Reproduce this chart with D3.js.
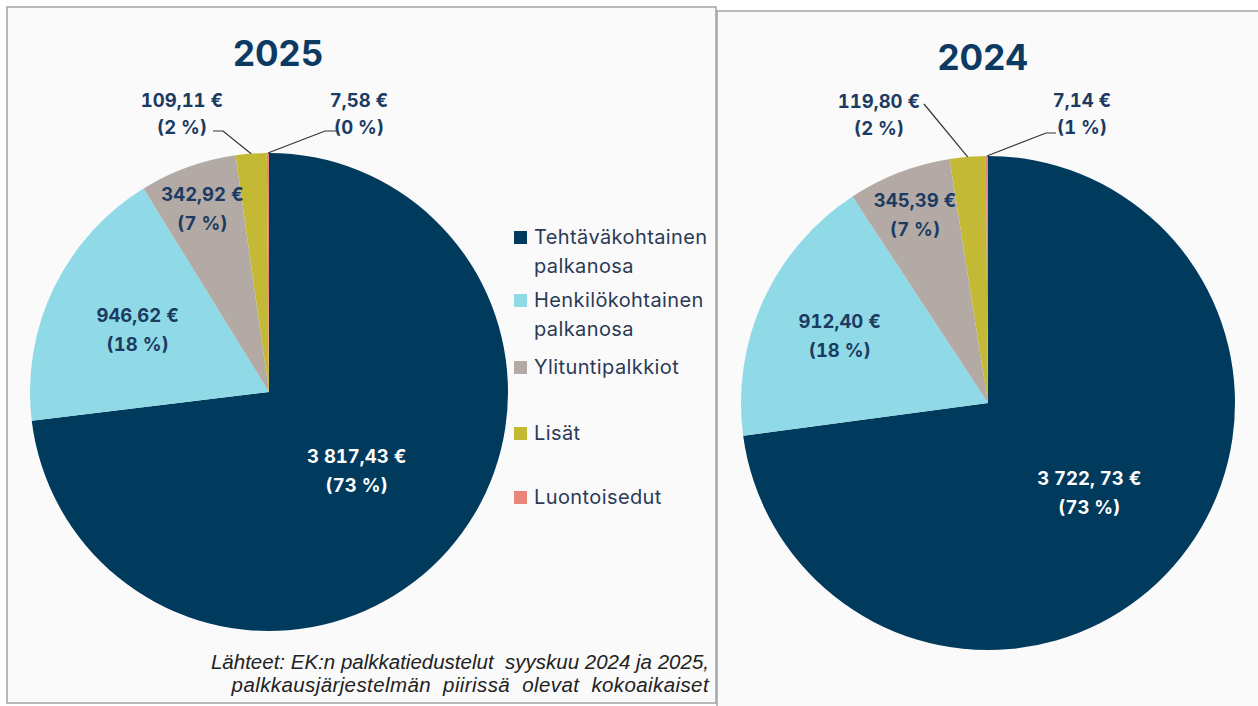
<!DOCTYPE html>
<html>
<head>
<meta charset="utf-8">
<script src="https://cdn.jsdelivr.net/npm/d3@7"></script>
<style>
body{margin:0;background:#fff;}
svg{display:block;}
.luku{font-family:Inter,'Noto Sans',sans-serif;font-weight:700;font-size:18.5px;font-variant-numeric:tabular-nums;}
</style>
</head>
<body>
<div class="kaavio-container"></div>
<script>
//////////////////////data//////////////////////
var kategoriat=["Tehtäväkohtainen palkanosa","Henkilökohtainen palkanosa","Ylituntipalkkiot","Lisät","Luontoisedut"];
var legendRivit=[["Tehtäväkohtainen","palkanosa"],["Henkilökohtainen","palkanosa"],["Ylituntipalkkiot"],["Lisät"],["Luontoisedut"]];
var arvot2025=[3817.43,946.62,342.92,109.11,7.58];
var arvot2024=[3722.73,912.40,345.39,119.80,7.14];
var euro2025=["3 817,43 €","946,62 €","342,92 €","109,11 €","7,58 €"];
var euro2024=["3 722, 73 €","912,40 €","345,39 €","119,80 €","7,14 €"];
var pros2025=["(73 %)","(18 %)","(7 %)","(2 %)","(0 %)"];
var pros2024=["(73 %)","(18 %)","(7 %)","(2 %)","(1 %)"];
var lahde=["Lähteet: EK:n palkkatiedustelut  syyskuu 2024 ja 2025,","palkkausjärjestelmän piirissä olevat kokoaikaiset"];

//värit
var varit=["#003a5d","#8fdae6","#b4aaa5","#c3b935","#e9867c"];
var tekstiVari="#1c3b62";

//////////////////////asettelu//////////////////////
var W=1258,H=706;
var kaaviot=[
    {vuosi:"2025",arvot:arvot2025,euro:euro2025,pros:pros2025,
     cx:269,cy:392,r:239,otsX:278,otsY:66,
     sisa:[0.49,0.61,0.82],
     //ulkopuoliset: tekstin keskikohta + viivan alku (suhteessa keskipisteeseen)
     ulko:[{i:3,dx:-87,dy:-285,p:[[-56,-261],[-46,-261]]},
           {i:4,dx:90,dy:-285,p:[[68,-261],[56,-261]]}]},
    {vuosi:"2024",arvot:arvot2024,euro:euro2024,pros:pros2024,
     cx:988,cy:403,r:247,otsX:983,otsY:70,
     sisa:[0.545,0.66,0.82],
     ulko:[{i:3,dx:-109,dy:-295,p:[[-64,-299],[-64,-299]]},
           {i:4,dx:94,dy:-296,p:[[68,-270],[58,-270]]}]}
];
var legendX=514,legendY=[244,307,374,440,504],riviKorkeus=29;

var svg=d3.select(".kaavio-container").append("svg").attr("width",W).attr("height",H);

//taustapaneelit
svg.append("rect").attr("x",7).attr("y",7).attr("width",709).attr("height",696)
    .attr("fill","#fafafa").attr("stroke","#a3a3a3").attr("stroke-width",1.5);
svg.append("rect").attr("x",717).attr("y",11).attr("width",560).attr("height",720)
    .attr("fill","#fafafa").attr("stroke","#a3a3a3").attr("stroke-width",1.5);

var pie=d3.pie().sort(null).value(function(d){return d;});

kaaviot.forEach(function(k){
    var g=svg.append("g").attr("transform","translate("+k.cx+","+k.cy+")");
    var osat=pie(k.arvot);
    var arc=d3.arc().innerRadius(0).outerRadius(k.r);

    g.selectAll("path.osa").data(osat).enter().append("path")
        .attr("class","osa")
        .attr("d",arc)
        .attr("fill",function(d,i){return varit[i];});

    //otsikko
    svg.append("text").attr("x",k.otsX).attr("y",k.otsY)
        .attr("text-anchor","middle")
        .style("font-family","Inter, 'Noto Sans', sans-serif")
        .style("font-weight","700").style("font-size","35px")
        .attr("fill","#0d3a63").text(k.vuosi);

    //sisäiset tekstit
    k.sisa.forEach(function(f,i){
        var la=d3.arc().innerRadius(k.r*f).outerRadius(k.r*f);
        var c=la.centroid(osat[i]);
        var t=g.append("text").attr("class","luku").attr("text-anchor","middle")
            .attr("fill",i==0?"#ffffff":tekstiVari);
        t.append("tspan").attr("x",c[0]).attr("y",c[1]-7).text(k.euro[i]);
        t.append("tspan").attr("x",c[0]).attr("y",c[1]+22).text(k.pros[i]);
    });

    //ulkopuoliset tekstit + viivat
    k.ulko.forEach(function(u){
        var kaari=d3.arc().innerRadius(k.r).outerRadius(k.r);
        var piste=kaari.centroid(osat[u.i]);
        var pts=u.p.concat([piste]);
        g.append("path").attr("d",d3.line()(pts))
            .attr("fill","none").attr("stroke","#333").attr("stroke-width",1.2);
        var t=g.append("text").attr("class","luku").attr("text-anchor","middle")
            .attr("fill",tekstiVari);
        t.append("tspan").attr("x",u.dx).attr("y",u.dy).text(k.euro[u.i]);
        t.append("tspan").attr("x",u.dx).attr("y",u.dy+27).text(k.pros[u.i]);
    });
});

//selite
var leg=svg.append("g");
legendRivit.forEach(function(rivit,i){
    leg.append("rect").attr("x",legendX).attr("y",legendY[i]-13)
        .attr("width",13).attr("height",13).attr("fill",varit[i]);
    var t=leg.append("text")
        .style("font-family","Inter, 'Noto Sans', sans-serif")
        .style("font-size","20px").style("letter-spacing","0.4px").attr("fill","#2a3a56");
    rivit.forEach(function(r,j){
        t.append("tspan").attr("x",legendX+20).attr("y",legendY[i]+j*riviKorkeus).text(r);
    });
});

//lähde
var lt=svg.append("text").attr("text-anchor","end")
    .attr("xml:space","preserve")
    .style("font-family","'Liberation Sans', Arial, sans-serif")
    .style("font-style","italic").style("font-size","20.5px").attr("fill","#222");
lahde.forEach(function(r,j){
    lt.append("tspan").attr("x",709).attr("y",669+j*23)
        .style("word-spacing",j==1?"6px":"0px")
        .style("letter-spacing",j==1?"0.4px":"0px").text(r);
});
</script>
</body>
</html>
